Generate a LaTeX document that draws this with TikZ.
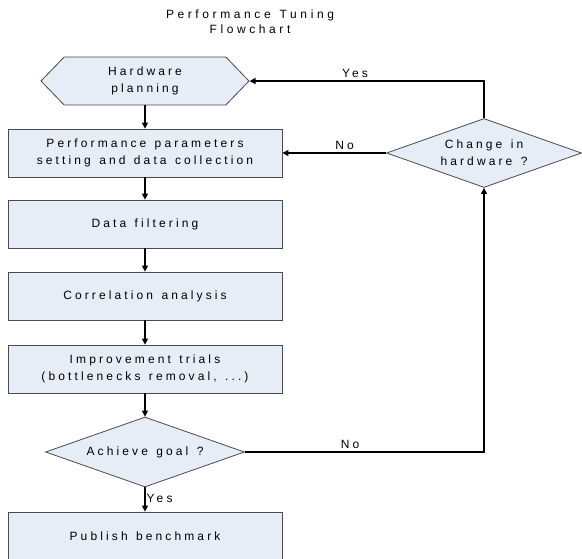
\documentclass[tikz,border=0pt]{standalone}
\usepackage{fontspec}
\setmainfont{Liberation Sans}[LetterSpace=26,WordSpace=1.3]
\usetikzlibrary{shapes.geometric,shapes.symbols,arrows.meta}
\definecolor{boxfill}{HTML}{E7EDF7}
\definecolor{boxline}{HTML}{4A4A4A}
\begin{document}
\begin{tikzpicture}[x=1pt,y=-1pt,
  font=\fontsize{12}{17}\selectfont,
  base/.style={draw=boxline,fill=boxfill,line width=0.8pt,align=center,inner sep=0pt},
  stepbox/.style={base,rectangle,minimum width=274pt,minimum height=48pt},
  startbox/.style={base,signal,signal to=west and east,signal pointer angle=92,
    minimum width=208pt,minimum height=48pt},
  decision/.style={base,diamond,aspect=2.85},
  flow/.style={line width=1.4pt,-{Triangle[length=6pt,width=6pt]}},
  lbl/.style={inner sep=3pt}]
\useasboundingbox (0,0) rectangle (582,558);

% title
\node[align=center,font=\fontsize{12}{15}\selectfont\addfontfeatures{LetterSpace=30}] (title) at (250,22) {Performance Tuning\\Flowchart};

% main column
\node[startbox] (hw) at (145,81) {Hardware\\planning};
\node[stepbox] (param) at (145,153) {Performance parameters\\setting and data collection};
\node[stepbox] (filter) at (145,224) {Data filtering};
\node[stepbox] (corr) at (145,296) {Correlation analysis};
\node[stepbox] (trial) at (145,369) {Improvement trials\\(bottlenecks removal, ...)};
\node[decision,minimum width=199pt,minimum height=70pt] (goal) at (145,452) {Achieve goal ?};
\node[stepbox] (pub) at (145,536) {Publish benchmark};

% side decision
\node[decision,minimum width=195pt,minimum height=69pt] (chg) at (484,153) {Change in\\hardware ?};

% connectors
\draw[flow] (hw.south) -- (param.north);
\draw[flow] (param) -- (filter);
\draw[flow] (filter) -- (corr);
\draw[flow] (corr) -- (trial);
\draw[flow] (trial) -- (goal);
\draw[flow] (goal.south) -- node[inner sep=1pt,right,pos=0.45] {Yes} (pub.north);
\draw[flow] (goal.east) -- node[lbl,above,pos=0.44] {No} (goal.east -| chg.south) -- (chg.south);
\draw[flow] (chg.west) -- node[lbl,above,pos=0.4] {No} (param.east);
\coordinate (yesturn) at (chg.north |- hw.east);
\draw[flow] (chg.north) -- (yesturn) -- node[lbl,above,pos=0.55] {Yes} (hw.east);
\end{tikzpicture}
\end{document}
